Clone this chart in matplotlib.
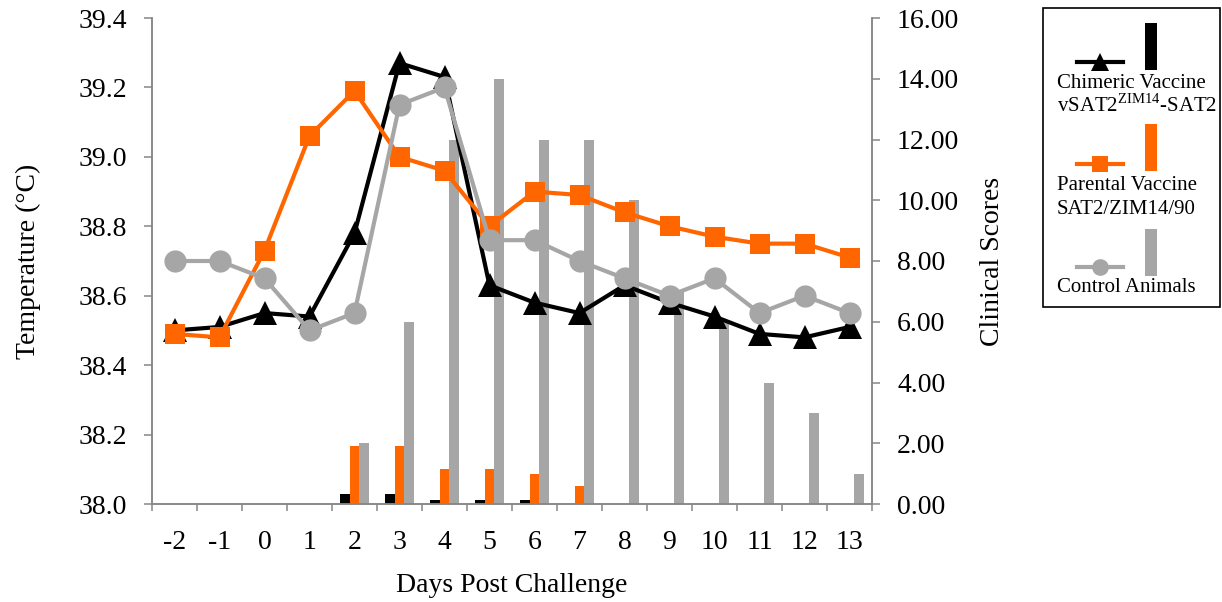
import matplotlib
matplotlib.use("Agg")
import matplotlib.pyplot as plt
import numpy as np
from matplotlib.lines import Line2D
from matplotlib.patches import Rectangle

plt.rcParams["font.family"] = ["Liberation Serif", "DejaVu Serif"]
plt.rcParams["mathtext.fontset"] = "custom"
plt.rcParams["mathtext.rm"] = "Liberation Serif"

# ---- data ----
days = ["-2", "-1", "0", "1", "2", "3", "4", "5", "6", "7", "8", "9", "10", "11", "12", "13"]

temp_chimeric = [38.50, 38.51, 38.55, 38.54, 38.78, 39.27, 39.23, 38.63, 38.58, 38.55,
                 38.63, 38.58, 38.54, 38.49, 38.48, 38.51]
temp_parental = [38.49, 38.48, 38.73, 39.06, 39.19, 39.00, 38.96, 38.80, 38.90, 38.89,
                 38.84, 38.80, 38.77, 38.75, 38.75, 38.71]
temp_control = [38.70, 38.70, 38.65, 38.50, 38.55, 39.15, 39.20, 38.76, 38.76, 38.70,
                38.65, 38.60, 38.65, 38.55, 38.60, 38.55]

score_chimeric = [0, 0, 0, 0, 0.33, 0.33, 0.12, 0.12, 0.12, 0, 0, 0, 0, 0, 0, 0]
score_parental = [0, 0, 0, 0, 1.90, 1.90, 1.15, 1.15, 1.00, 0.60, 0, 0, 0, 0, 0, 0]
score_control = [0, 0, 0, 0, 2.0, 6.0, 12.0, 14.0, 12.0, 12.0, 10.0, 7.0, 6.0, 4.0, 3.0, 1.0]

BLACK = "#000000"
ORANGE = "#FF6600"
GRAY = "#A6A6A6"
SPINE = "#868686"

W, H = 1222, 602
fig = plt.figure(figsize=(W / 100, H / 100), dpi=100)

ax = fig.add_axes([152 / W, 1 - 504 / H, 720 / W, 486 / H])
ax2 = ax.twinx()
ax.set_zorder(ax2.get_zorder() + 1)
ax.patch.set_visible(False)

x = np.arange(len(days))

# clinical score bars (right axis)
bw = 0.222
ax2.bar(x - bw, score_chimeric, bw, color=BLACK, linewidth=0)
ax2.bar(x, score_parental, bw, color=ORANGE, linewidth=0)
ax2.bar(x + bw, score_control, bw, color=GRAY, linewidth=0)
ax2.set_ylim(0, 16)
ax2.set_yticks(np.arange(0, 16.01, 2))
ax2.set_yticklabels([f"{v:.2f}" for v in np.arange(0, 16.01, 2)])

# temperature lines (left axis)
ax.plot(x, temp_chimeric, color=BLACK, lw=3, marker="^", ms=17, mew=0, zorder=3)
ax.plot(x, temp_parental, color=ORANGE, lw=3, marker="s", ms=15, mew=0, zorder=4)
ax.plot(x, temp_control, color=GRAY, lw=3, marker="o", ms=16, mew=0, zorder=5)
ax.set_ylim(38.0, 39.4)
ax.set_yticks(np.arange(38.0, 39.41, 0.2))
ax.set_yticklabels([f"{v:.1f}" for v in np.arange(38.0, 39.41, 0.2)])

ax.set_xlim(-0.5, len(days) - 0.5)
ax.set_xticks(np.arange(-0.5, len(days), 1.0))
ax.set_xticklabels([])
ax.set_xticks(x, minor=True)
ax.set_xticklabels(days, minor=True)
ax.tick_params(axis="x", which="major", length=5, width=1.1, color=SPINE, direction="out")
ax.tick_params(axis="x", which="minor", length=0, pad=19, labelsize=20)

for a in (ax, ax2):
    a.spines["top"].set_visible(False)
    for side in ("left", "right", "bottom"):
        a.spines[side].set_color(SPINE)
        a.spines[side].set_linewidth(1.1)

ax.tick_params(axis="y", length=6, width=1.1, color=SPINE, pad=12, labelsize=20)
ax2.tick_params(axis="y", length=6, width=1.1, color=SPINE, pad=12, labelsize=20)

ax.set_ylabel("Temperature (°C)", fontsize=20, labelpad=27)
ax2.set_ylabel("Clinical Scores", fontsize=20, labelpad=15)
ax.set_xlabel("Days Post Challenge", fontsize=20, labelpad=13)

# ---- legend panel (pixel coordinates) ----
lg = fig.add_axes([0, 0, 1, 1])
lg.set_xlim(0, W)
lg.set_ylim(H, 0)
lg.axis("off")
lg.add_patch(Rectangle((1043, 8), 177, 299, fill=False, edgecolor="black", lw=1.2))

entries = [
    (BLACK, "^", 17, 62, 23, ["Chimeric Vaccine", r"vSAT2$^{\mathrm{ZIM14}}$-SAT2"], 88),
    (ORANGE, "s", 15, 164, 124, ["Parental Vaccine", "SAT2/ZIM14/90"], 190),
    (GRAY, "o", 16, 267, 229, ["Control Animals"], 292),
]
for color, mk, msz, ly, bar_top, lines, base in entries:
    lg.add_line(Line2D([1077, 1123], [ly, ly], color=color, lw=3))
    lg.add_line(Line2D([1100], [ly], color=color, marker=mk, ms=msz * 0.75, mew=0, lw=0))
    lg.add_patch(Rectangle((1145, bar_top), 12, 47, color=color, lw=0))
    for i, t in enumerate(lines):
        lg.text(1057, base + i * 24, t, fontsize=15, va="baseline", ha="left")

fig.savefig("out.png", dpi=100)
